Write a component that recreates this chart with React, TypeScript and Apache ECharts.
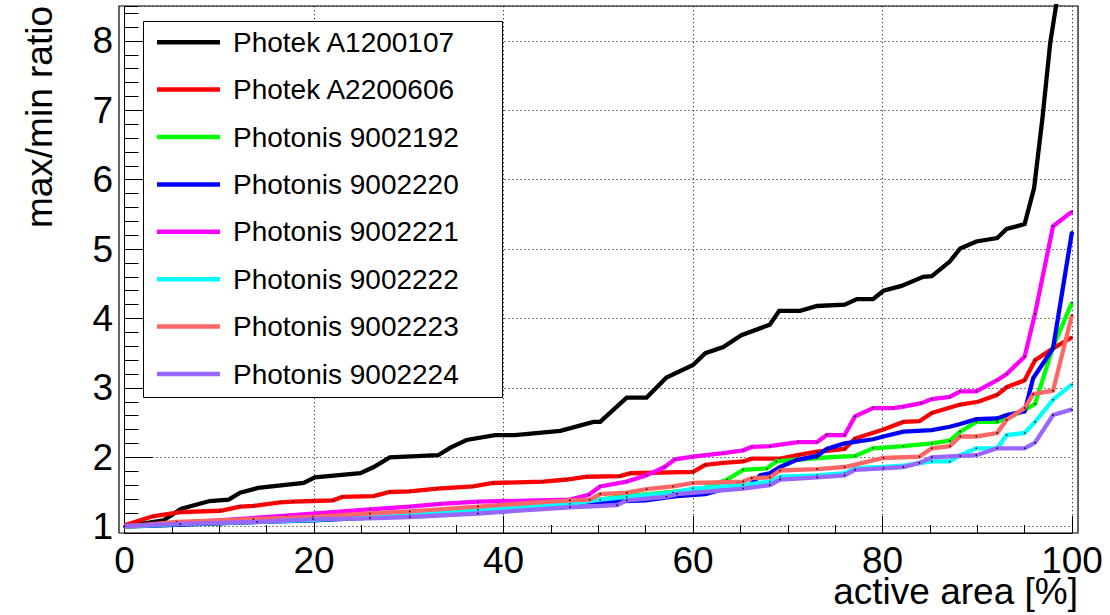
import React, { useEffect, useRef } from "react";
import * as echarts from "echarts";

const FONT = "'Liberation Sans', Arial, Helvetica, sans-serif";

const seriesNames = [
  "Photek A1200107",
  "Photek A2200606",
  "Photonis 9002192",
  "Photonis 9002220",
  "Photonis 9002221",
  "Photonis 9002222",
  "Photonis 9002223",
  "Photonis 9002224",
];
const seriesColors = ["#000000", "#ff0000", "#00ff00", "#0000ff", "#ff00ff", "#00ffff", "#ff6666", "#9966ff"];

const xTicks = [0, 20, 40, 60, 80, 100];
const yTicks = [1, 2, 3, 4, 5, 6, 7, 8];

// Photek A1200107
const xA1200107 = [0, 4.1, 6.0, 9.0, 11.0, 12.2, 14.1, 18.9, 20.1, 24.9, 26.3, 28.0, 33.1, 34.4, 36.1, 39.1, 41.2, 46.0, 49.5, 50.2, 53.0, 55.1, 57.2, 60.0, 61.3, 63.2, 65.1, 68.1, 69.1, 71.3, 73.1, 76.0, 77.3, 79.0, 80.1, 82.0, 84.3, 85.2, 87.1, 88.2, 89.9, 92.1, 93.1, 95.0, 96.0, 96.9, 97.7, 98.6, 100];
const yA1200107 = [1.0, 1.09, 1.26, 1.37, 1.39, 1.49, 1.56, 1.63, 1.71, 1.77, 1.86, 2.0, 2.03, 2.14, 2.25, 2.32, 2.32, 2.38, 2.51, 2.51, 2.86, 2.86, 3.15, 3.33, 3.5, 3.59, 3.76, 3.91, 4.11, 4.11, 4.18, 4.2, 4.28, 4.28, 4.4, 4.47, 4.6, 4.61, 4.82, 5.01, 5.11, 5.16, 5.29, 5.36, 5.88, 6.91, 7.97, 8.75, 11.0];

// Photek A2200606
const xA2200606 = [0, 3.0, 5.9, 10.1, 12.2, 13.6, 16.4, 17.8, 19.9, 22.0, 23.0, 26.3, 28.0, 30.1, 33.0, 36.8, 38.9, 44.2, 46.7, 48.8, 52.3, 53.4, 60.0, 61.3, 63.2, 65.3, 66.2, 69.2, 71.3, 73.1, 76.0, 77.1, 80.1, 82.2, 83.9, 85.2, 88.2, 90.1, 92.1, 93.1, 95.0, 96.1, 98.0, 100.0];
const yA2200606 = [1.02, 1.15, 1.21, 1.23, 1.29, 1.3, 1.35, 1.36, 1.37, 1.38, 1.43, 1.44, 1.5, 1.51, 1.55, 1.58, 1.63, 1.65, 1.68, 1.72, 1.73, 1.77, 1.79, 1.89, 1.92, 1.94, 1.98, 1.98, 2.04, 2.08, 2.12, 2.27, 2.4, 2.51, 2.52, 2.64, 2.76, 2.8, 2.9, 3.01, 3.11, 3.4, 3.57, 3.73];

// Photonis 9002192
const x9002192 = [0, 6, 12, 20, 26, 30, 37, 47.0, 52.0, 57.9, 61.1, 63.6, 65.3, 67.8, 68.8, 73.1, 77.1, 79.0, 82.2, 85.2, 87.1, 88.2, 89.9, 92.1, 93.1, 95.0, 96.1, 98.0, 100.0];
const y9002192 = [1.0, 1.03, 1.06, 1.1, 1.14, 1.17, 1.23, 1.32, 1.43, 1.5, 1.55, 1.68, 1.82, 1.84, 1.94, 1.99, 2.02, 2.13, 2.16, 2.2, 2.24, 2.37, 2.51, 2.51, 2.56, 2.68, 2.77, 3.59, 4.23];

// Photonis 9002220
const x9002220 = [0, 6, 12, 20, 26, 30, 37, 47.0, 49.0, 55.0, 58.3, 61.3, 63.2, 65.9, 67.1, 68.1, 69.2, 70.9, 73.1, 74.1, 76.0, 79.0, 80.1, 82.2, 85.2, 87.1, 88.2, 89.9, 92.1, 93.1, 95.0, 95.9, 98.0, 100.0];
const y9002220 = [1.0, 1.03, 1.06, 1.09, 1.13, 1.16, 1.22, 1.35, 1.35, 1.38, 1.44, 1.47, 1.54, 1.59, 1.74, 1.77, 1.86, 1.96, 2.02, 2.12, 2.2, 2.26, 2.3, 2.37, 2.39, 2.44, 2.48, 2.55, 2.56, 2.61, 2.66, 3.14, 3.57, 5.25];

// Photonis 9002221
const x9002221 = [0, 5.5, 11.1, 17.1, 25.9, 30.1, 33.3, 37.3, 47.0, 49.0, 50.2, 53.0, 55.1, 57.0, 58.1, 60.0, 63.2, 65.3, 66.2, 68.1, 71.1, 73.1, 74.1, 76.0, 77.1, 79.0, 81.1, 82.2, 84.1, 85.2, 87.1, 88.2, 89.9, 92.1, 93.1, 95.0, 96.1, 98.0, 100.0];
const y9002221 = [1.0, 1.05, 1.1, 1.16, 1.25, 1.29, 1.33, 1.36, 1.39, 1.46, 1.58, 1.65, 1.74, 1.86, 1.97, 2.01, 2.06, 2.1, 2.15, 2.16, 2.22, 2.22, 2.32, 2.32, 2.59, 2.71, 2.71, 2.73, 2.78, 2.84, 2.87, 2.95, 2.95, 3.11, 3.2, 3.45, 4.07, 5.33, 5.54];

// Photonis 9002222
const x9002222 = [0, 6, 14, 20, 25.9, 30.1, 37.3, 47.0, 50.2, 53.0, 57.9, 60.0, 65.3, 68.1, 69.2, 73.1, 76.0, 77.1, 80.1, 82.2, 85.2, 87.1, 88.2, 89.9, 92.1, 93.1, 95.0, 96.1, 98.0, 100.0];
const y9002222 = [1.0, 1.04, 1.07, 1.1, 1.14, 1.17, 1.24, 1.33, 1.39, 1.43, 1.49, 1.55, 1.6, 1.65, 1.72, 1.74, 1.77, 1.84, 1.86, 1.88, 1.94, 1.94, 2.03, 2.13, 2.13, 2.32, 2.35, 2.51, 2.83, 3.05];

// Photonis 9002223
const x9002223 = [0, 5.5, 13.6, 19.9, 25.9, 30.1, 37.3, 47.0, 49.1, 50.2, 53.0, 55.1, 57.9, 60.0, 65.3, 66.2, 68.1, 69.2, 73.1, 76.0, 80.1, 83.9, 85.2, 87.1, 88.2, 89.9, 92.1, 93.1, 95.0, 95.9, 98.0, 100.0];
const y9002223 = [1.0, 1.07, 1.11, 1.14, 1.19, 1.22, 1.29, 1.38, 1.39, 1.47, 1.49, 1.54, 1.58, 1.63, 1.65, 1.7, 1.71, 1.81, 1.83, 1.86, 1.99, 2.01, 2.13, 2.16, 2.3, 2.3, 2.35, 2.54, 2.71, 2.91, 2.96, 4.05];

// Photonis 9002224
const x9002224 = [0, 5.9, 14.0, 19.9, 25.9, 30.1, 37.3, 47.0, 52.0, 53.0, 57.2, 58.3, 65.3, 68.1, 69.2, 73.1, 76.0, 77.1, 80.1, 82.2, 83.9, 85.2, 88.2, 89.9, 92.1, 95.0, 96.1, 98.0, 100.0];
const y9002224 = [1.01, 1.04, 1.07, 1.11, 1.12, 1.14, 1.19, 1.28, 1.31, 1.38, 1.43, 1.47, 1.55, 1.6, 1.68, 1.71, 1.74, 1.82, 1.84, 1.86, 1.92, 2.0, 2.02, 2.03, 2.13, 2.13, 2.21, 2.61, 2.69];

const seriesX = [xA1200107, xA2200606, x9002192, x9002220, x9002221, x9002222, x9002223, x9002224];
const seriesY = [yA1200107, yA2200606, y9002192, y9002220, y9002221, y9002222, y9002223, y9002224];

export default function App() {
  const ref = useRef<HTMLDivElement>(null);
  useEffect(() => {
    if (!ref.current) return;
    const chart = echarts.init(ref.current, undefined, { renderer: "svg" });
    const grid = { left: 124.5, right: 38, top: 6.2, bottom: 88.3 };
    const series = seriesNames.map((name, i) => ({
      name,
      type: "line",
      xAxisIndex: 0,
      yAxisIndex: 0,
      data: seriesX[i].map((x, j) => [x, seriesY[i][j]]),
      showSymbol: true,
      symbol: "rect",
      symbolSize: 1.5,
      itemStyle: { color: "#000000" },
      lineStyle: { color: seriesColors[i], width: 4.3, join: "miter" },
      clip: true,
      z: 2 + i * 0.01,
    }));
    const option: any = {
      animation: false,
      backgroundColor: "#ffffff",
      textStyle: { fontFamily: FONT },
      grid,
      xAxis: [
        {
          type: "value",
          min: 0,
          max: 100,
          interval: 20,
          offset: 6.3,
          axisLine: { show: true, lineStyle: { color: "#000", width: 1 } },
          axisTick: { show: true, inside: true, length: 17, lineStyle: { color: "#000", width: 1 } },
          axisLabel: {
            show: true,
            fontSize: 37,
            lineHeight: 32,
            fontFamily: FONT,
            color: "#000",
            margin: 11,
            formatter: (v: number) => (xTicks.includes(v) ? String(v) : ""),
          },
          splitLine: { show: true, lineStyle: { color: "#000", type: [1, 3], width: 1 } },
        },
        {
          type: "value",
          min: 0,
          max: 100,
          interval: 5,
          offset: 6.3,
          position: "bottom",
          axisLine: { show: false },
          axisTick: { show: true, inside: true, length: 8, lineStyle: { color: "#000", width: 1 } },
          axisLabel: { show: false },
          splitLine: { show: false },
        },
      ],
      yAxis: [
        {
          type: "value",
          min: 1,
          max: 8.5,
          interval: 1,
          offset: 5.5,
          axisLine: { show: true, lineStyle: { color: "#000", width: 1 } },
          axisTick: { show: true, inside: true, length: 28, lineStyle: { color: "#000", width: 1 } },
          axisLabel: {
            show: true,
            fontSize: 37,
            fontFamily: FONT,
            color: "#000",
            margin: 6,
            showMaxLabel: false,
            formatter: (v: number) => (yTicks.includes(v) ? String(v) : ""),
          },
          splitLine: { show: true, lineStyle: { color: "#000", type: [1, 3], width: 1 } },
        },
        {
          type: "value",
          min: 1,
          max: 8.5,
          interval: 0.2,
          offset: 5.5,
          position: "left",
          axisLine: { show: false },
          axisTick: { show: true, inside: true, length: 14, lineStyle: { color: "#000", width: 1 } },
          axisLabel: { show: false },
          splitLine: { show: false },
        },
      ],
      legend: {
        show: true,
        orient: "vertical",
        left: 157,
        top: 27.2,
        padding: 0,
        itemWidth: 63,
        itemHeight: 4.5,
        itemGap: 17.4,
        icon: "rect",
        z: 10,
        data: seriesNames.map((name, i) => ({ name, itemStyle: { color: seriesColors[i] } })),
        textStyle: { fontSize: 28, lineHeight: 30, fontFamily: FONT, color: "#000", padding: [0, 0, 0, 8] },
      },
      graphic: [
        {
          type: "rect",
          z: 5,
          shape: { x: 143.5, y: 21.5, width: 359, height: 376 },
          style: { fill: "#ffffff", stroke: "#000000", lineWidth: 1 },
        },
        {
          type: "rect",
          z: 6,
          shape: { x: 119, y: 6, width: 959, height: 527 },
          style: { fill: "none", stroke: "#000000", lineWidth: 1.2 },
          silent: true,
        },
        {
          type: "text",
          z: 6,
          x: 39,
          y: 6,
          rotation: Math.PI / 2,
          style: {
            text: "max/min ratio",
            fontSize: 37,
            fontFamily: FONT,
            fill: "#000",
            align: "right",
            verticalAlign: "middle",
          },
        },
        {
          type: "text",
          z: 6,
          x: 1078,
          y: 591,
          style: {
            text: "active area [%]",
            fontSize: 37,
            lineHeight: 32,
            fontFamily: FONT,
            fill: "#000",
            align: "right",
            verticalAlign: "middle",
          },
        },
      ],
      series,
    };
    chart.setOption(option);
    return () => chart.dispose();
  }, []);
  return <div ref={ref} style={{ position: "absolute", left: 0, top: 0, width: 1110, height: 615 }} />;
}
